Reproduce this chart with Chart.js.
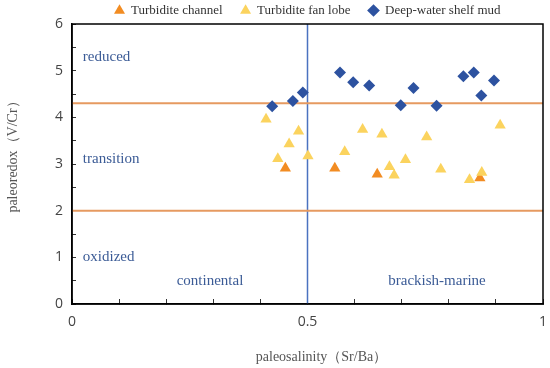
<!DOCTYPE html>
<html>
<head>
<meta charset="utf-8">
<script src="https://cdn.jsdelivr.net/npm/chart.js@4/dist/chart.umd.min.js"></script>
<style>
  body { margin: 0; background: #fff; }
</style>
</head>
<body>
<canvas id="chart" width="550" height="368"></canvas>
<script>
// values
const channelX = [0.453, 0.558, 0.648, 0.866];
const channelY = [2.91, 2.91, 2.78, 2.70];
const fanX = [0.412, 0.481, 0.461, 0.437, 0.501, 0.579, 0.617, 0.658, 0.674, 0.684, 0.708, 0.753, 0.783, 0.844, 0.870, 0.909];
const fanY = [3.96, 3.70, 3.43, 3.11, 3.17, 3.26, 3.74, 3.64, 2.94, 2.76, 3.09, 3.58, 2.89, 2.66, 2.82, 3.83];
const mudX = [0.425, 0.469, 0.490, 0.569, 0.597, 0.631, 0.698, 0.725, 0.774, 0.831, 0.853, 0.869, 0.896];
const mudY = [4.24, 4.35, 4.53, 4.96, 4.75, 4.68, 4.26, 4.63, 4.25, 4.88, 4.96, 4.47, 4.79];

const redoxBounds = [4.3, 2];   // V/Cr thresholds
const salinityBound = 0.5;      // Sr/Ba threshold

const regionText = ['reduced', 'transition', 'oxidized', 'continental', 'brackish-marine'];
const regionX = [0.023, 0.023, 0.023, 0.293, 0.775];
const regionY = [5.29, 3.11, 1.01, 0.5, 0.5];
const regionAlign = ['left', 'left', 'left', 'center', 'center'];

const serif = "'Liberation Serif', 'Times New Roman', serif";
const sans = "'Open Sans', 'Noto Sans', sans-serif";
const nbsp = n => '\u00a0'.repeat(n);

function toPoints(xs, ys) {
  return xs.map((x, i) => ({ x: x, y: ys[i] }));
}

const datasets = [{
  label: 'Turbidite channel',
  data: toPoints(channelX, channelY),
  pointStyle: 'triangle',
  pointRadius: 6.5,
  backgroundColor: '#f28c22',
  borderColor: '#f28c22',
  borderWidth: 0,
  order: 2
}, {
  label: 'Turbidite fan lobe',
  data: toPoints(fanX, fanY),
  pointStyle: 'triangle',
  pointRadius: 6.5,
  backgroundColor: '#fbd35e',
  borderColor: '#fbd35e',
  borderWidth: 0,
  order: 1
}, {
  label: 'Deep-water shelf mud',
  data: toPoints(mudX, mudY),
  pointStyle: 'rectRot',
  pointRadius: 6,
  backgroundColor: '#2d52a0',
  borderColor: '#2d52a0',
  borderWidth: 0,
  order: 0
}];

redoxBounds.forEach(b => {
  datasets.push({
    label: '',
    data: [{ x: 0, y: b }, { x: 1, y: b }],
    showLine: true,
    pointRadius: 0,
    borderColor: '#e69a60',
    borderWidth: 2,
    order: 3
  });
});
datasets.push({
  label: '',
  data: [{ x: salinityBound, y: 0 }, { x: salinityBound, y: 6 }],
  showLine: true,
  pointRadius: 0,
  borderColor: '#4a72c0',
  borderWidth: 1.5,
  order: 3
});

// legend: fixed height so the plot top lands where the original has it
const legendFit = {
  id: 'legendFit',
  afterInit(chart) {
    const fit = chart.legend.fit;
    chart.legend.fit = function () {
      fit.call(this);
      this.height = 38;
    };
  }
};

// full black frame around the plot
const frame = {
  id: 'frame',
  afterDraw(chart) {
    const { ctx, chartArea } = chart;
    ctx.save();
    ctx.strokeStyle = '#000';
    ctx.lineWidth = 1.5;
    ctx.strokeRect(chartArea.left, chartArea.top, chartArea.right - chartArea.left, chartArea.bottom - chartArea.top);
    ctx.restore();
  }
};

// zone names inside the plot
const regionLabels = {
  id: 'regionLabels',
  afterDatasetsDraw(chart) {
    const { ctx, scales } = chart;
    ctx.save();
    ctx.font = '15px ' + serif;
    ctx.fillStyle = '#3b5b96';
    ctx.textBaseline = 'middle';
    regionText.forEach((t, i) => {
      ctx.textAlign = regionAlign[i];
      ctx.fillText(t, scales.x.getPixelForValue(regionX[i]), scales.y.getPixelForValue(regionY[i]));
    });
    ctx.restore();
  }
};

new Chart(document.getElementById('chart'), {
  type: 'scatter',
  data: { datasets: datasets },
  options: {
    responsive: false,
    animation: false,
    layout: { padding: { top: -14, right: 7, left: 0, bottom: -2 } },
    plugins: {
      tooltip: { enabled: false },
      legend: {
        position: 'top',
        fullSize: false,
        labels: {
          usePointStyle: true,
          boxWidth: 10,
          boxHeight: 9,
          padding: 18,
          color: '#333',
          font: { family: serif, size: 13 },
          filter: item => item.text !== '',
          sort: (a, b) => a.datasetIndex - b.datasetIndex
        }
      }
    },
    scales: {
      x: {
        type: 'linear',
        min: 0,
        max: 1,
        afterFit: scale => {
          scale.height = 66;
          scale.paddingLeft = 0;
          scale.paddingRight = 0;
        },
        ticks: {
          stepSize: 0.1,
          padding: 15,
          color: '#444',
          font: { family: sans, size: 14 },
          maxRotation: 0,
          autoSkip: false,
          callback: v => (Math.abs(v * 2 - Math.round(v * 2)) < 1e-6 ? String(Math.round(v * 2) / 2) : '')
        },
        grid: { drawOnChartArea: false, tickLength: -5, color: '#333', lineWidth: 1 },
        border: { color: '#000', width: 1.5 },
        title: {
          display: true,
          text: nbsp(8) + 'paleosalinity（Sr/Ba）',
          color: '#555',
          font: { family: serif, size: 14 },
          padding: { top: 0, bottom: 4 }
        }
      },
      y: {
        type: 'linear',
        min: 0,
        max: 6,
        afterFit: scale => { scale.width = 72; },
        ticks: {
          stepSize: 0.5,
          padding: 13,
          color: '#444',
          font: { family: sans, size: 14 },
          autoSkip: false,
          callback: v => (Number.isInteger(v) ? String(v) : '')
        },
        grid: { drawOnChartArea: false, tickLength: -4, color: '#333', lineWidth: 1 },
        border: { color: '#000', width: 1.5 },
        title: {
          display: true,
          text: nbsp(6) + 'paleoredox（V/Cr）',
          color: '#555',
          font: { family: serif, size: 14 },
          padding: { top: 5, bottom: 0 }
        }
      }
    }
  },
  plugins: [legendFit, frame, regionLabels]
});
</script>
</body>
</html>
